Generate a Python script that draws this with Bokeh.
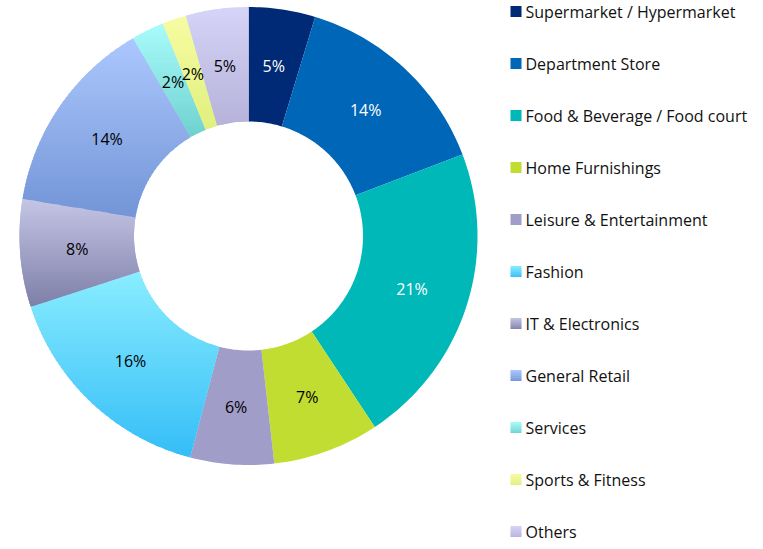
import numpy as np
from bokeh.plotting import figure
from bokeh.models import Range1d
from bokeh.core.properties import value
from bokeh.embed import file_html
from bokeh.resources import INLINE

# ---- data ----
categories = ["Supermarket / Hypermarket", "Department Store", "Food & Beverage / Food court",
              "Home Furnishings", "Leisure & Entertainment", "Fashion", "IT & Electronics",
              "General Retail", "Services", "Sports & Fitness", "Others"]
shares = [4.7, 14.5, 21.5, 7.5, 5.9, 15.9, 7.6, 14.0, 2.3, 1.7, 4.4]
share_labels = ["5%", "14%", "21%", "7%", "6%", "16%", "8%", "14%", "2%", "2%", "5%"]
color_top = ["#002a75", "#0066b8", "#00b8b8", "#c2dd31", "#a09dc8", "#8aeeff",
             "#c6c6e6", "#adc8ff", "#aafcfc", "#f7fca3", "#d6d4f8"]
color_bottom = ["#002a75", "#0066b8", "#00b8b8", "#c2dd31", "#a09dc8", "#35bdf7",
                "#7e80a8", "#7395d6", "#6fd2cf", "#e0f07e", "#b6b2da"]
label_colors = ["white", "white", "white", "black", "black", "black",
                "black", "black", "black", "black", "black"]

# ---- layout (picture pixel geometry) ----
W, H = 755, 541
CX, CY = 248.0, 235.5
S = 229.0            # px per unit radius
R_OUT, R_IN = 1.0, 0.5
R_LAB = 0.75

p = figure(width=W, height=H, output_backend="svg", toolbar_location=None,
           x_range=Range1d(-CX / S, (W - CX) / S),
           y_range=Range1d((CY - H) / S, CY / S),
           min_border=0, outline_line_color=None)
p.axis.visible = False
p.grid.visible = False
p.background_fill_color = "white"
p.border_fill_color = "white"


def hexrgb(h):
    h = h.lstrip("#")
    return np.array([int(h[i:i + 2], 16) for i in (0, 2, 4)], dtype=float)


def mix(c0, c1, t):
    c = hexrgb(c0) * (1 - t) + hexrgb(c1) * t
    return "#%02x%02x%02x" % tuple(int(round(v)) for v in c)


def clip_half(xs, ys, yc, keep_above):
    out_x, out_y = [], []
    n = len(xs)
    for i in range(n):
        x0, y0 = xs[i - 1], ys[i - 1]
        x1, y1 = xs[i], ys[i]
        in0 = (y0 >= yc) if keep_above else (y0 <= yc)
        in1 = (y1 >= yc) if keep_above else (y1 <= yc)
        if in1:
            if not in0:
                t = (yc - y0) / (y1 - y0)
                out_x.append(x0 + t * (x1 - x0)); out_y.append(yc)
            out_x.append(x1); out_y.append(y1)
        elif in0:
            t = (yc - y0) / (y1 - y0)
            out_x.append(x0 + t * (x1 - x0)); out_y.append(yc)
    return out_x, out_y


total = float(sum(shares))
fracs = np.array(shares) / total
ends = np.cumsum(fracs)
starts = ends - fracs

band_xs, band_ys, band_cols = [], [], []
lab_x, lab_y = [], []
for i in range(len(categories)):
    a0 = np.pi / 2 - 2 * np.pi * starts[i]
    a1 = np.pi / 2 - 2 * np.pi * ends[i]
    n = max(8, int(400 * fracs[i]))
    ang = np.linspace(a0, a1, n)
    px = list(R_OUT * np.cos(ang)) + list(R_IN * np.cos(ang[::-1]))
    py = list(R_OUT * np.sin(ang)) + list(R_IN * np.sin(ang[::-1]))
    ymax, ymin = max(py), min(py)
    nb = 1 if color_top[i] == color_bottom[i] else 48
    h = (ymax - ymin) / nb
    eps = 1.2 / S
    for k in range(nb):
        hi = ymax - k * h + (eps if k > 0 else 0)
        lo = ymax - (k + 1) * h - (eps if k < nb - 1 else 0)
        cx, cy = clip_half(px, py, lo, True)
        if len(cx) < 3:
            continue
        cx, cy = clip_half(cx, cy, hi, False)
        if len(cx) < 3:
            continue
        band_xs.append(cx); band_ys.append(cy)
        band_cols.append(mix(color_top[i], color_bottom[i], (k + 0.5) / nb))
    am = (a0 + a1) / 2
    lab_x.append(R_LAB * np.cos(am)); lab_y.append(R_LAB * np.sin(am))

p.patches(band_xs, band_ys, fill_color=band_cols, line_color=None)

p.text(lab_x, lab_y, text=share_labels, text_color=label_colors,
       text_font=value("Open Sans"), text_font_size="16px",
       text_align="center", text_baseline="middle")

# ---- legend ----
LX0, LX1, TX = 510.0, 521.0, 525.0
ROW0, ROWSTEP, SQ = 11.0, 52.0, 11.0
ux = lambda px_: (px_ - CX) / S
uy = lambda py_: (CY - py_) / S
q_l, q_r, q_t, q_b, q_c = [], [], [], [], []
tx, ty = [], []
for i, name in enumerate(categories):
    yc = ROW0 + i * ROWSTEP
    top = yc - SQ / 2
    nstrip = 1 if color_top[i] == color_bottom[i] else 6
    for k in range(nstrip):
        t0 = top + k * SQ / nstrip
        t1 = top + (k + 1) * SQ / nstrip + (0.4 if k < nstrip - 1 else 0)
        q_l.append(ux(LX0)); q_r.append(ux(LX1))
        q_t.append(uy(t0)); q_b.append(uy(t1))
        q_c.append(mix(color_top[i], color_bottom[i], (k + 0.5) / nstrip))
    tx.append(ux(TX)); ty.append(uy(yc))

p.quad(left=q_l, right=q_r, top=q_t, bottom=q_b, fill_color=q_c, line_color=None)
p.text(tx, ty, text=categories, text_color="#111111",
       text_font=value("Open Sans"), text_font_size="16px",
       text_align="left", text_baseline="middle")

open("out.html", "w").write(file_html(p, INLINE))
